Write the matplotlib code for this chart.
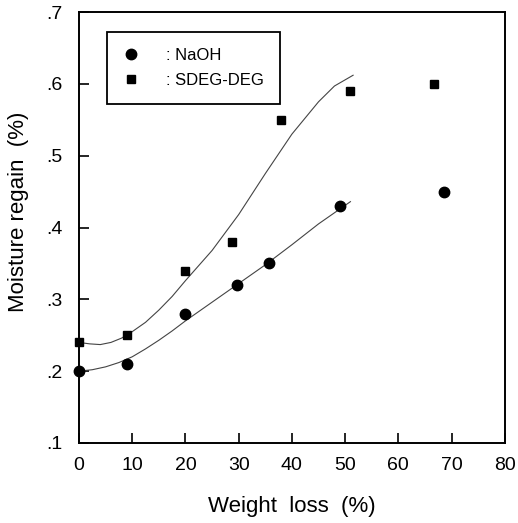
import matplotlib
matplotlib.use("Agg")
import matplotlib.pyplot as plt

plt.rcParams['font.family'] = ['Liberation Sans', 'DejaVu Sans']

# measured points
naoh_x = [0, 9, 20, 29.6, 35.7, 49, 68.6]
naoh_y = [0.20, 0.21, 0.28, 0.32, 0.35, 0.43, 0.45]
sdeg_x = [0, 9, 20, 28.8, 38, 51, 66.7]
sdeg_y = [0.24, 0.25, 0.34, 0.38, 0.55, 0.59, 0.60]

# fitted curves
naoh_fit_x = [0, 2.5, 5, 7.5, 10, 12.5, 15, 17.5, 20, 25, 30, 35, 40, 45, 51]
naoh_fit_y = [0.200, 0.202, 0.206, 0.212, 0.220, 0.231, 0.243, 0.256, 0.270, 0.296, 0.322, 0.348, 0.376, 0.405, 0.436]
sdeg_fit_x = [0, 2, 4, 6, 8, 10, 12.5, 15, 17.5, 20, 25, 30, 35, 40, 45, 48, 51.5]
sdeg_fit_y = [0.240, 0.238, 0.237, 0.240, 0.246, 0.255, 0.268, 0.285, 0.304, 0.326, 0.368, 0.418, 0.475, 0.530, 0.575, 0.597, 0.612]

x_ticks = [0, 10, 20, 30, 40, 50, 60, 70, 80]
y_ticks = [0.1, 0.2, 0.3, 0.4, 0.5, 0.6, 0.7]
y_labels = ['.1', '.2', '.3', '.4', '.5', '.6', '.7']

fig = plt.figure(figsize=(5.18, 5.23), dpi=100)
ax = fig.add_axes([0.1525, 0.153, 0.822, 0.824])

ax.plot(naoh_fit_x, naoh_fit_y, color='#444444', lw=0.8)
ax.plot(sdeg_fit_x, sdeg_fit_y, color='#444444', lw=0.8)
ax.plot(naoh_x, naoh_y, 'o', color='black', ms=7.5, label=': NaOH', clip_on=False)
ax.plot(sdeg_x, sdeg_y, 's', color='black', ms=6, label=': SDEG-DEG', clip_on=False)

ax.set_xlim(0, 80)
ax.set_ylim(0.1, 0.7)
ax.set_xticks(x_ticks)
ax.set_yticks(y_ticks)
ax.set_yticklabels(y_labels)
ax.tick_params(direction='in', length=7, width=1.2, labelsize=14)
ax.tick_params(axis='x', pad=10)
ax.tick_params(axis='y', pad=12)
for s in ax.spines.values():
    s.set_linewidth(1.4)

ax.set_xlabel('Weight  loss  (%)', fontsize=16, labelpad=16)
ax.set_ylabel('Moisture regain  (%)', fontsize=16)
ax.yaxis.set_label_coords(-0.118, 0.537)

leg = ax.legend(loc='upper left', bbox_to_anchor=(0.066, 0.953), fontsize=12,
                fancybox=False, edgecolor='black', framealpha=1,
                handlelength=1.0, handletextpad=1.6, borderpad=0.95,
                labelspacing=0.6, borderaxespad=0)
leg.get_frame().set_linewidth(1.3)

fig.savefig('out.png', dpi=100)
